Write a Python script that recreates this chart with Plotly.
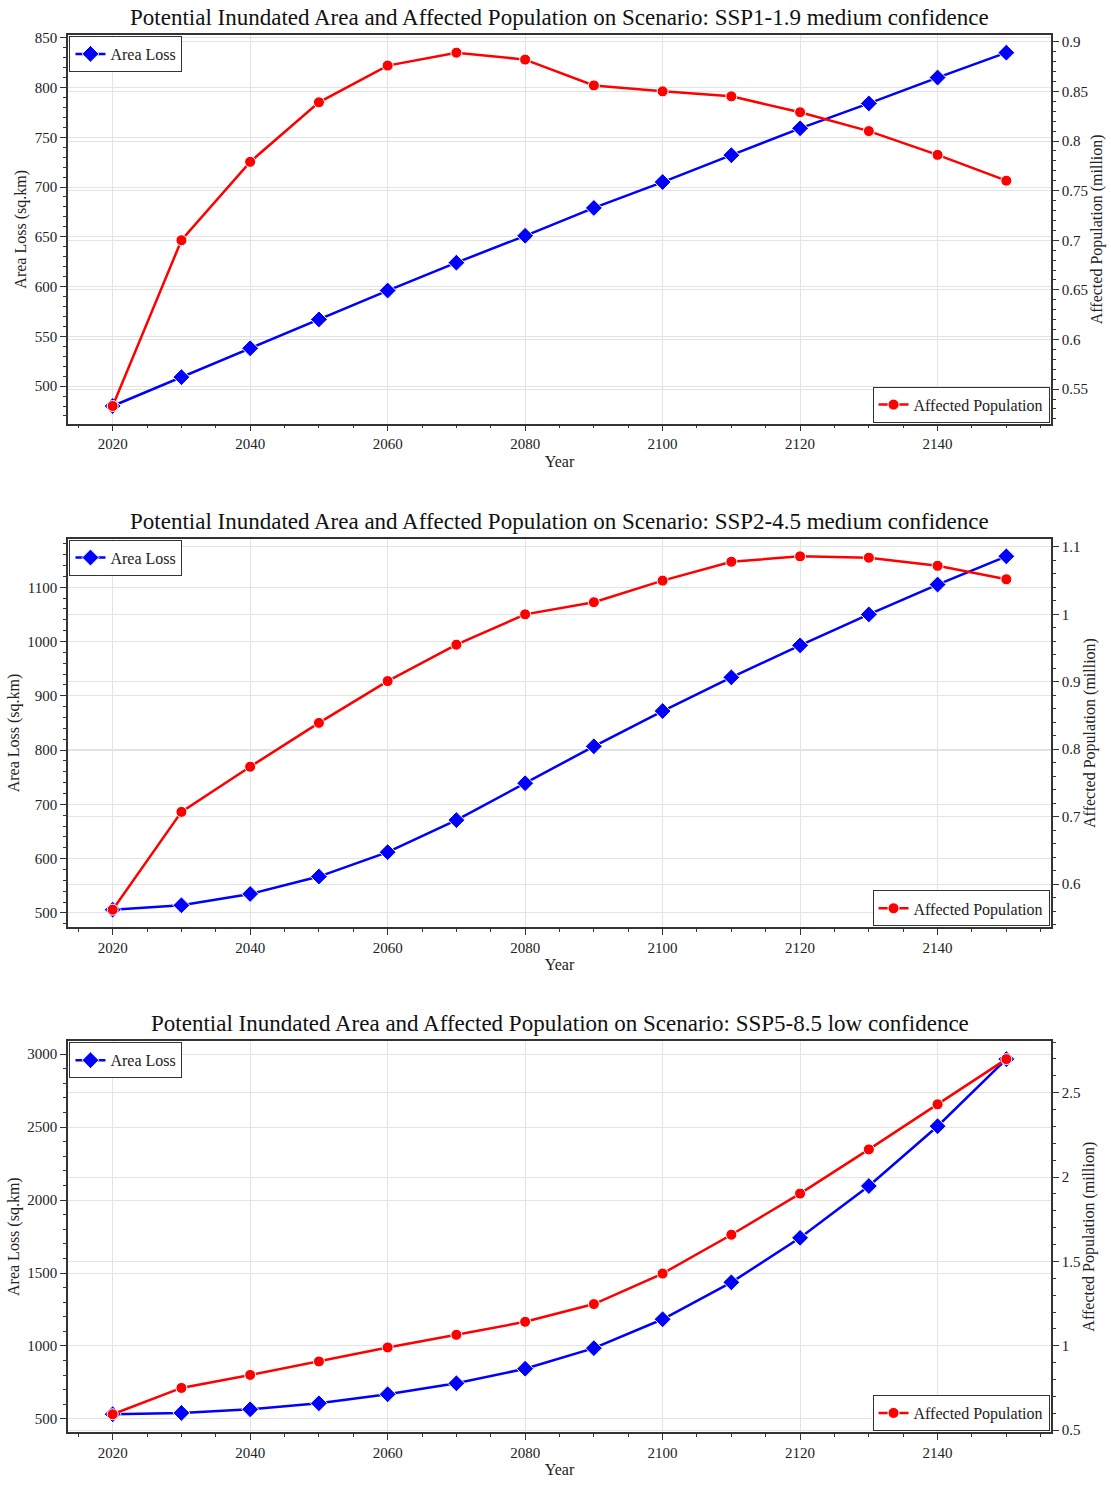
import plotly.graph_objects as go
from plotly.subplots import make_subplots

years = [2020, 2030, 2040, 2050, 2060, 2070, 2080, 2090, 2100, 2110, 2120, 2130, 2140, 2150]

scenarios = [
    "SSP1-1.9 medium confidence",
    "SSP2-4.5 medium confidence",
    "SSP5-8.5 low confidence",
]

area_ssp119 = [480, 509, 538, 567, 596, 624, 651, 679, 705, 732, 759, 784, 810, 835]
pop_ssp119 = [0.533, 0.700, 0.779, 0.839, 0.876, 0.889, 0.882, 0.856, 0.850, 0.845, 0.829, 0.810, 0.786, 0.760]

area_ssp245 = [506, 514, 535, 567, 612, 671, 739, 807, 872, 934, 993, 1050, 1105, 1157]
pop_ssp245 = [0.562, 0.707, 0.774, 0.839, 0.901, 0.955, 1.000, 1.018, 1.050, 1.078, 1.086, 1.084, 1.072, 1.052]

area_ssp585 = [532, 541, 566, 607, 669, 744, 844, 985, 1183, 1436, 1741, 2096, 2506, 2966]
pop_ssp585 = [0.594, 0.750, 0.827, 0.907, 0.990, 1.065, 1.142, 1.247, 1.428, 1.658, 1.902, 2.164, 2.431, 2.699]

area_series = [area_ssp119, area_ssp245, area_ssp585]
pop_series = [pop_ssp119, pop_ssp245, pop_ssp585]

left_dtick = [50, 100, 500]
left_minor = [10, 20, 100]
right_dtick = [0.05, 0.1, 0.5]
right_minor = [0.01, 0.02, 0.1]

FONT = "Liberation Serif, Times New Roman, serif"
SPINE = "#333333"
GRID = "#e3e3e3"

W, H = 1111, 1488
mt, mb, ml, mr = 35, 44, 68, 56
ph = H - mt - mb
panels_px = [(35, 427), (543, 935), (1050, 1444)]


def py(px):
    return 1 - (px - mt) / ph


fig = make_subplots(rows=3, cols=1, specs=[[{"secondary_y": True}]] * 3)


def pad(vals, frac=0.05):
    lo, hi = min(vals), max(vals)
    d = (hi - lo) * frac
    return [lo - d, hi + d]


for i in range(3):
    row = i + 1
    lg_a = "legend" if i == 0 else f"legend{2 * i + 1}"
    lg_p = f"legend{2 * i + 2}"
    fig.add_trace(
        go.Scatter(
            x=years, y=area_series[i], name="Area Loss", mode="lines+markers",
            line=dict(color="#0000ff", width=2.5),
            marker=dict(symbol="diamond", size=13, color="#0000ff",
                        line=dict(color="white", width=1)),
            legend=lg_a,
        ),
        row=row, col=1, secondary_y=False,
    )
    fig.add_trace(
        go.Scatter(
            x=years, y=pop_series[i], name="Affected Population", mode="lines+markers",
            line=dict(color="#ff0000", width=2.5),
            marker=dict(symbol="circle", size=11, color="#ff0000",
                        line=dict(color="white", width=1)),
            legend=lg_p,
        ),
        row=row, col=1, secondary_y=True,
    )

layout = dict(
    width=W, height=H,
    margin=dict(t=mt, b=mb, l=ml, r=mr),
    paper_bgcolor="white", plot_bgcolor="white",
    font=dict(family=FONT, size=15, color="#222222"),
    showlegend=True,
)

annotations = []
for i in range(3):
    top, bot = panels_px[i]
    d0, d1 = py(bot), py(top)
    xa = "xaxis" if i == 0 else f"xaxis{i + 1}"
    ya = f"yaxis{2 * i + 1}" if i > 0 else "yaxis"
    yb = f"yaxis{2 * i + 2}"
    layout[xa] = dict(
        domain=[0, 1], range=pad(years), tickmode="linear", tick0=2020, dtick=20,
        ticks="outside", ticklen=6, tickwidth=1.2, tickcolor=SPINE,
        minor=dict(ticks="outside", ticklen=3, dtick=5, tick0=2020, tickcolor=SPINE, showgrid=False),
        showline=True, linecolor=SPINE, linewidth=1.5, mirror=True,
        showgrid=True, gridcolor=GRID, gridwidth=1, zeroline=False,
        title=dict(text="Year", font=dict(size=16, family=FONT), standoff=4),
        tickfont=dict(size=15, family=FONT),
    )
    layout[ya] = dict(
        domain=[d0, d1], range=pad(area_series[i]), tickmode="linear", dtick=left_dtick[i], tick0=0,
        ticks="outside", ticklen=6, tickwidth=1.2, tickcolor=SPINE,
        minor=dict(ticks="outside", ticklen=3, dtick=left_minor[i], tick0=0, tickcolor=SPINE, showgrid=False),
        showline=True, linecolor=SPINE, linewidth=1.5,
        showgrid=True, gridcolor=GRID, gridwidth=1, zeroline=False,
        title=dict(text="Area Loss (sq.km)", font=dict(size=16, family=FONT), standoff=4),
        tickfont=dict(size=15, family=FONT),
    )
    layout[yb] = dict(
        range=pad(pop_series[i]), tickmode="linear", dtick=right_dtick[i], tick0=0,
        ticks="outside", ticklen=6, tickwidth=1.2, tickcolor=SPINE,
        minor=dict(ticks="outside", ticklen=3, dtick=right_minor[i], tick0=0, tickcolor=SPINE, showgrid=False),
        showline=True, linecolor=SPINE, linewidth=1.5,
        showgrid=True, gridcolor=GRID, gridwidth=1, zeroline=False,
        title=dict(text="Affected Population (million)", font=dict(size=16, family=FONT), standoff=0),
        tickfont=dict(size=15, family=FONT),
        tickformat="~g",
    )
    lg_a = "legend" if i == 0 else f"legend{2 * i + 1}"
    lg_p = f"legend{2 * i + 2}"
    layout[lg_a] = dict(
        x=0.0015, y=d1 - 0.0007, xanchor="left", yanchor="top",
        bgcolor="white", bordercolor=SPINE, borderwidth=1,
        font=dict(size=16, family=FONT, color="#222222"),
        tracegroupgap=0, itemwidth=30,
    )
    layout[lg_p] = dict(
        x=0.9985, y=d0 + 0.0007, xanchor="right", yanchor="bottom",
        bgcolor="white", bordercolor=SPINE, borderwidth=1,
        font=dict(size=16, family=FONT, color="#222222"),
        tracegroupgap=0, itemwidth=30,
    )
    annotations.append(dict(
        text=f"Potential Inundated Area and Affected Population on Scenario: {scenarios[i]}",
        xref="paper", yref="paper", x=0.5, y=d1, yshift=3,
        xanchor="center", yanchor="bottom", showarrow=False,
        font=dict(size=23, family=FONT, color="#111111"),
    ))

layout["annotations"] = annotations
fig.update_layout(**layout)

fig.write_html("out.html", config={"displayModeBar": False},
               post_script="document.body.style.margin='0';")
